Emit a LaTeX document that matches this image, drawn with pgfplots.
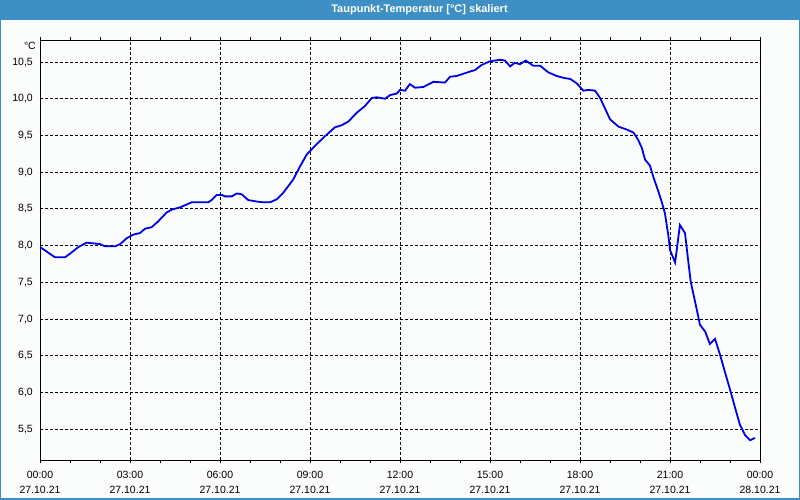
\documentclass[border=0pt]{standalone}
\usepackage{fontspec}
\setmainfont{Liberation Sans}
\usepackage{pgfplots}
\pgfplotsset{compat=1.18}
\definecolor{barblue}{RGB}{61,143,196}
\definecolor{bgc}{RGB}{250,253,251}
\definecolor{lineblue}{RGB}{0,0,230}
\begin{document}
\begin{tikzpicture}[x=1bp,y=1bp]
\path[use as bounding box] (0,0) rectangle (800,500);
\fill[barblue] (0,0) rectangle (800,500);
\fill[bgc] (1.5,1.5) rectangle (798.5,480);
\node[text=white,font=\fontsize{11bp}{13bp}\selectfont\bfseries] at (419.5,490) {Taupunkt-Temperatur [°C] skaliert};
\begin{axis}[
  at={(40bp,40bp)}, anchor=south west,
  scale only axis, width=720bp, height=420bp,
  xmin=0, xmax=24, ymin=5.08, ymax=10.80,
  axis line style={black, line width=0.8bp},
  xtick={0,3,...,24},
  minor xtick={1,2,4,5,7,8,10,11,13,14,16,17,19,20,22,23},
  xticklabels={{00:00\\27.10.21},{03:00\\27.10.21},{06:00\\27.10.21},{09:00\\27.10.21},{12:00\\27.10.21},{15:00\\27.10.21},{18:00\\27.10.21},{21:00\\27.10.21},{00:00\\28.10.21}},
  xticklabel style={align=center, font=\fontsize{10.5bp}{14.7bp}\selectfont, inner sep=0pt, yshift=-8bp},
  ytick={5.5,6,...,10.5},
  yticklabel style={font=\fontsize{10.5bp}{12bp}\selectfont, inner sep=0pt, xshift=-4bp,
    /pgf/number format/use comma, /pgf/number format/fixed, /pgf/number format/fixed zerofill, /pgf/number format/precision=1},
  /pgf/number format/assume math mode=true,
  tick align=outside,
  major tick length=3bp, minor tick length=3bp,
  xtick style={black, line width=0.8bp},
  minor tick style={black, line width=0.8bp},
  ytick style={draw=none},
  xmajorgrids, ymajorgrids,
  major grid style={black, line width=0.8bp, dash pattern=on 3bp off 2bp},
  axis background/.style={fill=bgc},
  clip mode=individual,
]
\addplot[lineblue, line width=1.8bp] coordinates {
(0.0,7.98) (0.22,7.92) (0.5,7.84) (0.83,7.84) (1.0,7.89) (1.28,7.98) (1.56,8.04) (2.0,8.02)
(2.17,7.99) (2.5,7.99) (2.67,8.02) (2.89,8.10) (3.11,8.15) (3.33,8.17) (3.5,8.23) (3.72,8.25)
(3.94,8.33) (4.22,8.45) (4.39,8.49) (4.67,8.52) (4.89,8.56) (5.06,8.59) (5.61,8.59) (5.72,8.62)
(5.89,8.69) (6.06,8.69) (6.17,8.67) (6.39,8.67) (6.56,8.71) (6.72,8.70) (6.94,8.62) (7.22,8.60)
(7.44,8.59) (7.67,8.59) (7.89,8.63) (8.11,8.72) (8.44,8.90) (8.67,9.08) (8.89,9.24) (9.17,9.36)
(9.5,9.49) (9.83,9.61) (10.06,9.64) (10.28,9.69) (10.56,9.81) (10.83,9.90) (11.06,10.01) (11.22,10.02)
(11.5,10.00) (11.67,10.05) (11.89,10.07) (12.0,10.12) (12.17,10.11) (12.33,10.20) (12.5,10.15) (12.78,10.16)
(13.11,10.23) (13.5,10.22) (13.67,10.30) (13.89,10.31) (14.11,10.34) (14.33,10.37) (14.5,10.39) (14.72,10.46)
(15.0,10.51) (15.33,10.53) (15.5,10.52) (15.67,10.44) (15.83,10.49) (16.0,10.47) (16.19,10.52) (16.44,10.45)
(16.67,10.45) (16.94,10.36) (17.22,10.31) (17.5,10.28) (17.67,10.27) (17.89,10.21) (18.11,10.11) (18.28,10.12)
(18.5,10.11) (18.67,10.01) (18.83,9.87) (19.0,9.72) (19.28,9.62) (19.56,9.58) (19.78,9.54) (19.94,9.44)
(20.06,9.33) (20.17,9.17) (20.33,9.09) (20.44,8.94) (20.61,8.74) (20.72,8.60) (20.83,8.44) (20.94,8.15)
(21.0,7.94) (21.17,7.77) (21.24,7.99) (21.33,8.28) (21.5,8.17) (21.61,7.78) (21.69,7.51) (21.87,7.17)
(22.0,6.92) (22.17,6.83) (22.33,6.66) (22.5,6.73) (22.67,6.51) (22.83,6.28) (23.0,6.04) (23.17,5.79)
(23.33,5.56) (23.5,5.42) (23.67,5.35) (23.83,5.38)
};
\end{axis}
\node[anchor=north east, font=\fontsize{10.5bp}{12bp}\selectfont, inner sep=0pt] at (36,458) {°C};
\end{tikzpicture}
\end{document}
